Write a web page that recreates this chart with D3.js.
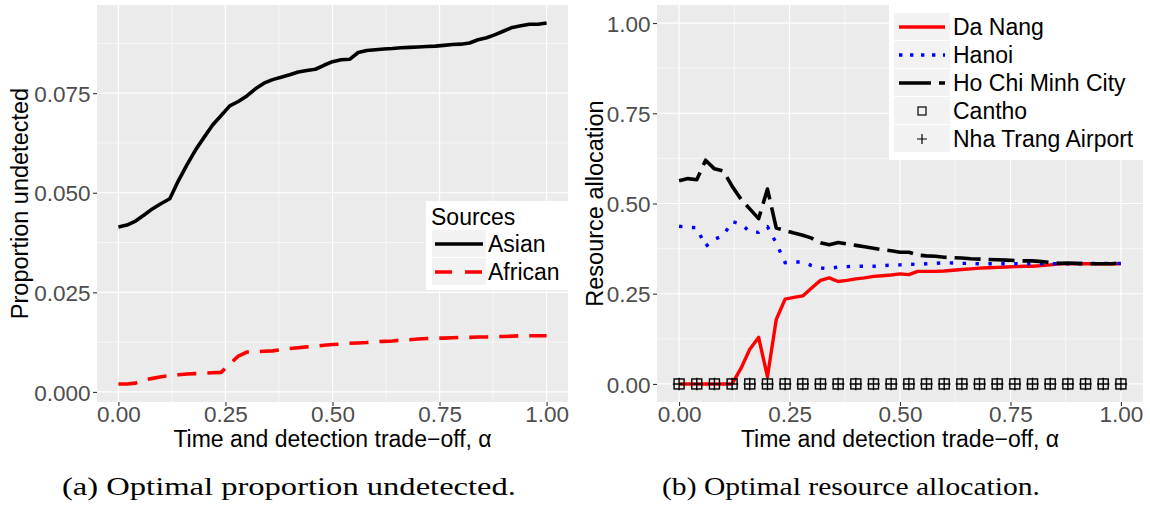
<!DOCTYPE html>
<html>
<head>
<meta charset="utf-8">
<script src="https://cdn.jsdelivr.net/npm/d3@7"></script>
<style>
  html, body { margin: 0; padding: 0; background: #ffffff; }
  svg { display: block; }
  text { font-family: "Liberation Sans", Arial, sans-serif; }
</style>
</head>
<body>
<svg id="fig" width="1150" height="505"></svg>
<script>
// Trade-off parameter alpha for the line series
const alpha = [0.00,0.02,0.04,0.06,0.08,0.10,0.12,0.14,0.16,0.18,0.20,0.22,0.24,0.26,0.28,0.30,0.32,0.34,0.36,0.38,0.40,0.42,0.44,0.46,0.48,0.50,0.52,0.54,0.56,0.58,0.60,0.62,0.64,0.66,0.68,0.70,0.72,0.74,0.76,0.78,0.80,0.82,0.84,0.86,0.88,0.90,0.92,0.94,0.96,0.98,1.00];

// (a) proportion undetected per source
const asian = [0.0414,0.0419,0.0429,0.0444,0.0460,0.0473,0.0485,0.0530,0.0570,0.0607,0.0639,0.0670,0.0694,0.0718,0.0729,0.0743,0.0761,0.0775,0.0784,0.0790,0.0796,0.0803,0.0807,0.0810,0.0820,0.0829,0.0834,0.0835,0.0852,0.0857,0.0859,0.0861,0.0862,0.0864,0.0865,0.0866,0.0867,0.0868,0.0870,0.0872,0.0873,0.0876,0.0884,0.0889,0.0897,0.0906,0.0915,0.0919,0.0923,0.0923,0.0926];
const african = [0.0020,0.0020,0.0022,0.0030,0.0034,0.0038,0.0041,0.0043,0.0045,0.0046,0.0047,0.0048,0.0049,0.0070,0.0090,0.0100,0.0101,0.0102,0.0103,0.0106,0.0109,0.0111,0.0113,0.0115,0.0117,0.0119,0.0120,0.0122,0.0123,0.0124,0.0126,0.0127,0.0128,0.0130,0.0131,0.0133,0.0134,0.0135,0.0135,0.0136,0.0137,0.0137,0.0138,0.0138,0.0139,0.0139,0.0140,0.0141,0.0141,0.0141,0.0141];

// (b) resource allocation per site
const daNang = [0,0,0,0,0,0,0,0.043,0.096,0.129,0.020,0.179,0.235,0.240,0.244,0.266,0.287,0.294,0.284,0.287,0.291,0.294,0.298,0.300,0.302,0.305,0.303,0.312,0.312,0.312,0.313,0.315,0.317,0.319,0.321,0.322,0.323,0.324,0.325,0.326,0.326,0.328,0.330,0.333,0.333,0.333,0.333,0.333,0.333,0.333,0.333];
const hanoi = [0.437,0.434,0.433,0.381,0.401,0.411,0.450,0.443,0.422,0.420,0.436,0.390,0.336,0.338,0.338,0.328,0.321,0.320,0.324,0.325,0.326,0.326,0.326,0.328,0.329,0.330,0.332,0.331,0.333,0.334,0.336,0.335,0.334,0.334,0.333,0.333,0.333,0.333,0.333,0.333,0.333,0.333,0.333,0.333,0.333,0.333,0.334,0.334,0.334,0.334,0.334];
const hoChiMinh = [0.563,0.569,0.566,0.620,0.596,0.590,0.548,0.512,0.485,0.458,0.540,0.432,0.425,0.418,0.412,0.404,0.391,0.386,0.392,0.388,0.384,0.380,0.376,0.372,0.369,0.365,0.365,0.357,0.355,0.354,0.351,0.350,0.349,0.347,0.346,0.345,0.344,0.343,0.342,0.341,0.341,0.339,0.337,0.334,0.335,0.334,0.333,0.333,0.333,0.333,0.336];

// Point series (coarser alpha grid)
const markerAlpha = [0.00,0.04,0.08,0.12,0.16,0.20,0.24,0.28,0.32,0.36,0.40,0.44,0.48,0.52,0.56,0.60,0.64,0.68,0.72,0.76,0.80,0.84,0.88,0.92,0.96,1.00];
const cantho = [0,0,0,0,0,0,0,0,0,0,0,0,0,0,0,0,0,0,0,0,0,0,0,0,0,0];
const nhaTrang = [0,0,0,0,0,0,0,0,0,0,0,0,0,0,0,0,0,0,0,0,0,0,0,0,0,0];

// Tick positions
const xTicks = [0, 0.25, 0.5, 0.75, 1];
const xMinor = [0.125, 0.375, 0.625, 0.875];
const aTicks = [0, 0.025, 0.05, 0.075];
const aMinor = [0.0125, 0.0375, 0.0625, 0.0875];
const bTicks = [0, 0.25, 0.5, 0.75, 1];
const bMinor = [0.125, 0.375, 0.625, 0.875];

const xTitle = "Time and detection trade\u2212off, \u03b1";

const svg = d3.select("#fig");
const TICK_FONT = 22.5;
const TITLE_FONT = 23;

// ggplot-style 5% expansion of a range
function expand(lo, hi) {
  const pad = (hi - lo) * 0.05;
  return [lo - pad, hi + pad];
}

function panel(opt) {
  const g = svg.append("g");
  const x = d3.scaleLinear().domain(expand(0, 1)).range([opt.left, opt.right]);
  const y = d3.scaleLinear().domain(opt.yDomain).range([opt.bottom, opt.top]);

  g.append("rect")
    .attr("x", opt.left).attr("y", opt.top)
    .attr("width", opt.right - opt.left).attr("height", opt.bottom - opt.top)
    .attr("fill", "#ebebeb");

  // minor grid
  g.selectAll(null).data(opt.yMinor).join("line")
    .attr("x1", opt.left).attr("x2", opt.right)
    .attr("y1", d => y(d)).attr("y2", d => y(d))
    .attr("stroke", "#ffffff").attr("stroke-width", 0.6);
  g.selectAll(null).data(xMinor).join("line")
    .attr("y1", opt.top).attr("y2", opt.bottom)
    .attr("x1", d => x(d)).attr("x2", d => x(d))
    .attr("stroke", "#ffffff").attr("stroke-width", 0.6);
  // major grid
  g.selectAll(null).data(opt.yTicks).join("line")
    .attr("x1", opt.left).attr("x2", opt.right)
    .attr("y1", d => y(d)).attr("y2", d => y(d))
    .attr("stroke", "#ffffff").attr("stroke-width", 1.2);
  g.selectAll(null).data(xTicks).join("line")
    .attr("y1", opt.top).attr("y2", opt.bottom)
    .attr("x1", d => x(d)).attr("x2", d => x(d))
    .attr("stroke", "#ffffff").attr("stroke-width", 1.2);

  // axes
  const ax = g.append("g").attr("transform", `translate(0,${opt.bottom})`)
    .call(d3.axisBottom(x).tickValues(xTicks).tickFormat(d3.format(".2f")).tickSize(4).tickPadding(0));
  const ay = g.append("g").attr("transform", `translate(${opt.left},0)`)
    .call(d3.axisLeft(y).tickValues(opt.yTicks).tickFormat(d3.format(opt.yFormat)).tickSize(4).tickPadding(2.5));
  [ax, ay].forEach(a => {
    a.select(".domain").remove();
    a.selectAll(".tick line").attr("stroke", "#333333").attr("stroke-width", 1.1);
    a.selectAll(".tick text").attr("fill", "#4d4d4d")
      .style("font-family", "'Liberation Sans', Arial, sans-serif")
      .style("font-size", TICK_FONT + "px");
  });
  ax.selectAll(".tick text").attr("dy", "0.7em");
  ay.selectAll(".tick text").attr("dy", "0.36em");

  // axis titles
  g.append("text")
    .attr("x", (opt.left + opt.right) / 2).attr("y", 447)
    .attr("text-anchor", "middle").attr("fill", "#000")
    .style("font-size", TITLE_FONT + "px")
    .text(xTitle);
  g.append("text")
    .attr("transform", `translate(${opt.yTitleX},${(opt.top + opt.bottom) / 2}) rotate(-90)`)
    .attr("text-anchor", "middle").attr("fill", "#000")
    .style("font-size", (TITLE_FONT + 0.5) + "px")
    .text(opt.yTitle);

  return { g, x, y };
}

function drawLine(p, xs, ys, style) {
  const line = d3.line().x((d, i) => p.x(xs[i])).y(d => p.y(d));
  p.g.append("path")
    .datum(ys)
    .attr("d", line)
    .attr("fill", "none")
    .attr("stroke", style.color)
    .attr("stroke-width", style.width)
    .attr("stroke-linejoin", "round")
    .attr("stroke-linecap", "butt")
    .attr("stroke-dasharray", style.dash || null);
}

/* ---------- (a) Optimal proportion undetected ---------- */
const aLo = d3.min(african), aHi = d3.max(asian);
const pa = panel({
  left: 97, right: 568, top: 5, bottom: 402,
  yDomain: expand(aLo, aHi), yTicks: aTicks, yMinor: aMinor, yFormat: ".3f",
  yTitle: "Proportion undetected", yTitleX: 28
});

const sourceStyles = [
  { name: "Asian", values: asian, color: "#000000", width: 3.6 },
  { name: "African", values: african, color: "#ff0000", width: 3.6, dash: "19,11" }
];
sourceStyles.forEach(s => drawLine(pa, alpha, s.values, s));

// legend (a)
{
  const lg = svg.append("g");
  lg.append("rect").attr("x", 426).attr("y", 201).attr("width", 142).attr("height", 89).attr("fill", "#ffffff");
  lg.append("text").attr("x", 431).attr("y", 225).attr("fill", "#000")
    .style("font-size", "23px").text("Sources");
  sourceStyles.forEach((s, i) => {
    const ky = 230 + i * 28;
    lg.append("rect").attr("x", 432).attr("y", ky).attr("width", 54).attr("height", 27).attr("fill", "#f2f2f2");
    lg.append("line").attr("x1", 435).attr("x2", 483).attr("y1", ky + 14).attr("y2", ky + 14)
      .attr("stroke", s.color).attr("stroke-width", s.width)
      .attr("stroke-dasharray", s.dash ? "17,13" : null);
    lg.append("text").attr("x", 488).attr("y", ky + 14 + 8.3).attr("fill", "#000")
      .style("font-size", "23px").text(s.name);
  });
}

/* ---------- (b) Optimal resource allocation ---------- */
const pb = panel({
  left: 657, right: 1143, top: 5, bottom: 402,
  yDomain: expand(0, 1), yTicks: bTicks, yMinor: bMinor, yFormat: ".2f",
  yTitle: "Resource allocation", yTitleX: 603
});

const siteLines = [
  { name: "Da Nang", values: daNang, color: "#ff0000", width: 3.4 },
  { name: "Hanoi", values: hanoi, color: "#0000ff", width: 3.4, dash: "3.4,9.5" },
  { name: "Ho Chi Minh City", values: hoChiMinh, color: "#000000", width: 3.6, dash: "26,8" }
];
siteLines.forEach(s => drawLine(pb, alpha, s.values, s));

function square(g, cx, cy, size, sw) {
  g.append("rect").attr("x", cx - size / 2).attr("y", cy - size / 2)
    .attr("width", size).attr("height", size)
    .attr("fill", "none").attr("stroke", "#000").attr("stroke-width", sw);
}
function plus(g, cx, cy, size, sw) {
  g.append("path")
    .attr("d", `M${cx - size / 2},${cy}H${cx + size / 2}M${cx},${cy - size / 2}V${cy + size / 2}`)
    .attr("stroke", "#000").attr("stroke-width", sw).attr("fill", "none");
}
cantho.forEach((v, i) => square(pb.g, pb.x(markerAlpha[i]), pb.y(v), 10, 1.4));
nhaTrang.forEach((v, i) => plus(pb.g, pb.x(markerAlpha[i]), pb.y(v), 12.5, 1.4));

// legend (b)
{
  const lg = svg.append("g");
  lg.append("rect").attr("x", 889).attr("y", 5).attr("width", 254).attr("height", 155).attr("fill", "#ffffff");
  const items = siteLines.map(s => ({ name: s.name, kind: "line", s }))
    .concat([{ name: "Cantho", kind: "square" }, { name: "Nha Trang Airport", kind: "plus" }]);
  const keyDash = { "Hanoi": "3.4,7.6", "Ho Chi Minh City": "32,8" };
  items.forEach((it, i) => {
    const ky = 13 + i * 28;
    const cy = ky + 14;
    lg.append("rect").attr("x", 894).attr("y", ky).attr("width", 56).attr("height", 27).attr("fill", "#f2f2f2");
    if (it.kind === "line") {
      lg.append("line").attr("x1", 899).attr("x2", 945).attr("y1", cy).attr("y2", cy)
        .attr("stroke", it.s.color).attr("stroke-width", it.s.width)
        .attr("stroke-dasharray", keyDash[it.name] || null);
    } else if (it.kind === "square") {
      square(lg, 922, cy, 8, 1.2);
    } else {
      plus(lg, 922, cy, 10, 1.2);
    }
    lg.append("text").attr("x", 953).attr("y", cy + 8.3).attr("fill", "#000")
      .style("font-size", "23px").text(it.name);
  });
}

/* ---------- sub-captions ---------- */
const captions = [
  { text: "(a) Optimal proportion undetected.", x: 62, len: 454 },
  { text: "(b) Optimal resource allocation.", x: 662, len: 378 }
];
captions.forEach(c => {
  svg.append("text")
    .attr("x", c.x).attr("y", 495)
    .attr("textLength", c.len).attr("lengthAdjust", "spacingAndGlyphs")
    .attr("fill", "#000")
    .style("font-family", "'Liberation Serif', 'Times New Roman', serif")
    .style("font-size", "25px")
    .text(c.text);
});
</script>
</body>
</html>
